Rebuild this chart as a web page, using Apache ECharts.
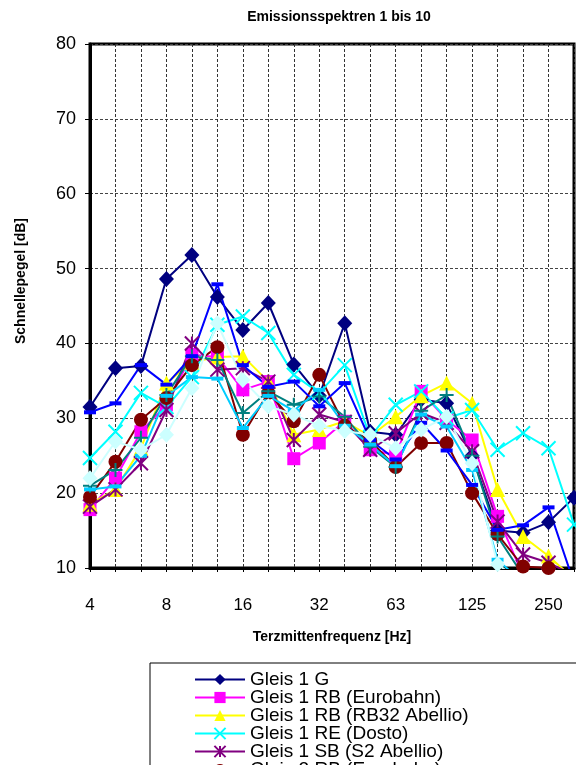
<!DOCTYPE html>
<html lang="de">
<head>
    <meta charset="UTF-8">
    <title>Emissionsspektren</title>
    <script src="https://cdn.jsdelivr.net/npm/echarts@6/dist/echarts.min.js"></script>
    <style>
        body { margin: 0; background: #fff; }
    </style>
</head>
<body>
<div id="main" style="width:576px;height:765px;"></div>
<script type="text/javascript">
    // Terzmittenfrequenzen (Hz)
    var categories = ['4', '5', '6.3', '8', '10', '12.5', '16', '20', '25', '32',
        '40', '50', '63', '80', '100', '125', '160', '200', '250', '315'];

    var gleis1G      = [31.5, 36.7, 37.0, 48.6, 51.8, 46.2, 41.8, 45.4, 37.2, 33.0, 42.7, 28.2, 27.8, 32.5, 32.0, 25.0, 15.0, 14.7, 16.1, 19.4];
    var gleis1RBEuro = [17.8, 22.0, 28.2, 31.8, 38.5, 38.2, 33.8, 34.9, 24.6, 26.7, 29.6, 25.8, 25.1, 33.6, 29.8, 27.1, 16.9, 9.0, 8.5, 8.0];
    var gleis1RB32   = [18.5, 20.5, 26.0, 34.7, 37.5, 38.2, 38.3, 34.9, 27.8, 28.5, 29.6, 27.6, 30.2, 33.0, 34.7, 32.0, 20.5, 14.2, 11.6, 8.5];
    var gleis1RE     = [24.7, 28.2, 33.4, 31.5, 35.5, 42.5, 43.6, 41.4, 35.8, 33.4, 37.1, 27.5, 31.8, 33.6, 30.0, 31.1, 25.8, 28.0, 26.0, 15.8];
    var gleis1SB     = [18.2, 20.5, 24.0, 31.1, 40.0, 36.5, 36.7, 34.9, 27.1, 30.5, 29.5, 25.8, 28.0, 30.7, 29.4, 25.6, 16.2, 11.8, 10.7, 9.0];
    var gleis2RBEuro = [19.5, 24.2, 29.8, 32.7, 37.1, 39.5, 27.8, 33.4, 29.6, 35.8, 29.0, 27.0, 23.5, 26.7, 26.7, 20.0, 14.5, 10.2, 10.0, 9.0];
    var gleis2RB32   = [21.0, 23.1, 27.4, 33.1, 38.3, 37.8, 30.7, 33.6, 31.8, 32.9, 30.2, 26.2, 23.5, 31.0, 33.1, 25.0, 14.2, 9.0, 8.5, 8.0];
    var gleis2G      = [30.8, 32.0, 37.1, 34.5, 38.3, 47.9, 37.1, 34.2, 34.9, 31.6, 34.7, 27.1, 24.5, 29.4, 25.7, 21.1, 15.1, 15.7, 18.1, 8.0];
    var gleis2RE     = [20.5, 20.9, 25.0, 33.0, 35.5, 35.3, 28.7, 33.0, 31.0, 33.8, 29.0, 26.5, 23.6, 30.5, 28.9, 23.1, 11.1, 8.0, 7.5, 7.0];
    var gleis2SB     = [22.0, 26.9, 25.8, 27.8, 34.0, 42.7, 35.1, 31.6, 30.5, 29.0, 28.3, 27.8, 26.0, 28.5, 30.2, 24.0, 10.5, 8.0, 7.5, 7.0];

    var seriesNames = ['Gleis 1 G', 'Gleis 1 RB (Eurobahn)', 'Gleis 1 RB (RB32 Abellio)', 'Gleis 1 RE (Dosto)',
        'Gleis 1 SB (S2 Abellio)', 'Gleis 2 RB (Eurobahn)', 'Gleis 2 RB (RB32 Abellio)', 'Gleis 2 G',
        'Gleis 2 RE (Dosto)', 'Gleis 2 SB (S2 Abellio)'];
    var seriesData = [gleis1G, gleis1RBEuro, gleis1RB32, gleis1RE, gleis1SB,
        gleis2RBEuro, gleis2RB32, gleis2G, gleis2RE, gleis2SB];
    var colors = ['#000080', '#FF00FF', '#FFFF00', '#00FFFF', '#800080',
        '#800000', '#008080', '#0000FF', '#00CCFF', '#CCFFFF'];

    var X_PATH = 'path://M0,0L10,10M0,10L10,0';
    var STAR_PATH = 'path://M0,0L10,10M0,10L10,0M5,0L5,10';
    var PLUS_PATH = 'path://M5,0L5,10M0,5L10,5';
    var symbols = ['diamond', 'rect', 'triangle', X_PATH, STAR_PATH, 'circle', PLUS_PATH, 'rect', 'rect', 'diamond'];
    var symbolSizes = [[15, 16], 13, 15, 14, 14, 14, 14, [12, 4], [12, 4], [15, 16]];

    var myChart = echarts.init(document.getElementById('main'));
    var font = 'Liberation Sans, Arial, sans-serif';

    var series = [];
    for (var i = 0; i < seriesData.length; i++) {
        var stroked = symbols[i].indexOf('path://') === 0;
        series.push({
            name: seriesNames[i],
            type: 'line',
            data: seriesData[i],
            symbol: symbols[i],
            symbolSize: symbolSizes[i],
            showAllSymbol: true,
            clip: true,
            lineStyle: {color: colors[i], width: 2},
            itemStyle: stroked
                ? {color: colors[i], borderColor: colors[i], borderWidth: 2}
                : {color: colors[i], borderWidth: 0},
            emphasis: {disabled: true},
            animation: false
        });
    }

    var option = {
        animation: false,
        textStyle: {fontFamily: font},
        title: {
            text: 'Emissionsspektren 1 bis 10',
            left: 334,
            textAlign: 'center',
            top: 5,
            textStyle: {fontSize: 14, fontWeight: 'bold', color: '#000', fontFamily: font}
        },
        grid: {
            left: 90, top: 44, right: 2, bottom: 197,
            show: true, borderColor: '#000', borderWidth: 3,
            containLabel: false
        },
        legend: {
            orient: 'vertical',
            left: 150,
            top: 663,
            height: 400,
            padding: [7, 160, 6, 44],
            borderColor: '#000',
            borderWidth: 1,
            itemWidth: 50,
            itemHeight: 14,
            itemGap: -1,
            textStyle: {fontSize: 19, color: '#000', fontFamily: font},
            data: seriesNames
        },
        xAxis: {
            type: 'category',
            data: categories,
            boundaryGap: false,
            name: 'Terzmittenfrequenz [Hz]',
            nameLocation: 'middle',
            nameGap: 62,
            nameTextStyle: {fontSize: 14, fontWeight: 'bold', color: '#000', fontFamily: font},
            axisLine: {lineStyle: {color: '#000', width: 3}},
            axisTick: {show: true, interval: 0, length: 4, lineStyle: {color: '#000'}},
            axisLabel: {interval: 2, fontSize: 17, color: '#000', margin: 29, fontFamily: font},
            splitLine: {show: true, interval: 0, lineStyle: {color: '#333', type: [3, 2], width: 1}}
        },
        yAxis: {
            type: 'value',
            min: 10,
            max: 80,
            interval: 10,
            name: 'Schnellepegel [dB]',
            nameLocation: 'middle',
            nameGap: 62,
            nameTextStyle: {fontSize: 14, fontWeight: 'bold', color: '#000', fontFamily: font, padding: [0, 0, 0, 50]},
            axisLine: {show: true, lineStyle: {color: '#000', width: 3}},
            axisTick: {show: true, length: 5, lineStyle: {color: '#000'}},
            axisLabel: {fontSize: 18, color: '#000', margin: 14, fontFamily: font},
            splitLine: {show: true, lineStyle: {color: '#444', type: [3, 2], width: 1}}
        },
        series: series
    };
    myChart.setOption(option);
</script>
</body>
</html>
